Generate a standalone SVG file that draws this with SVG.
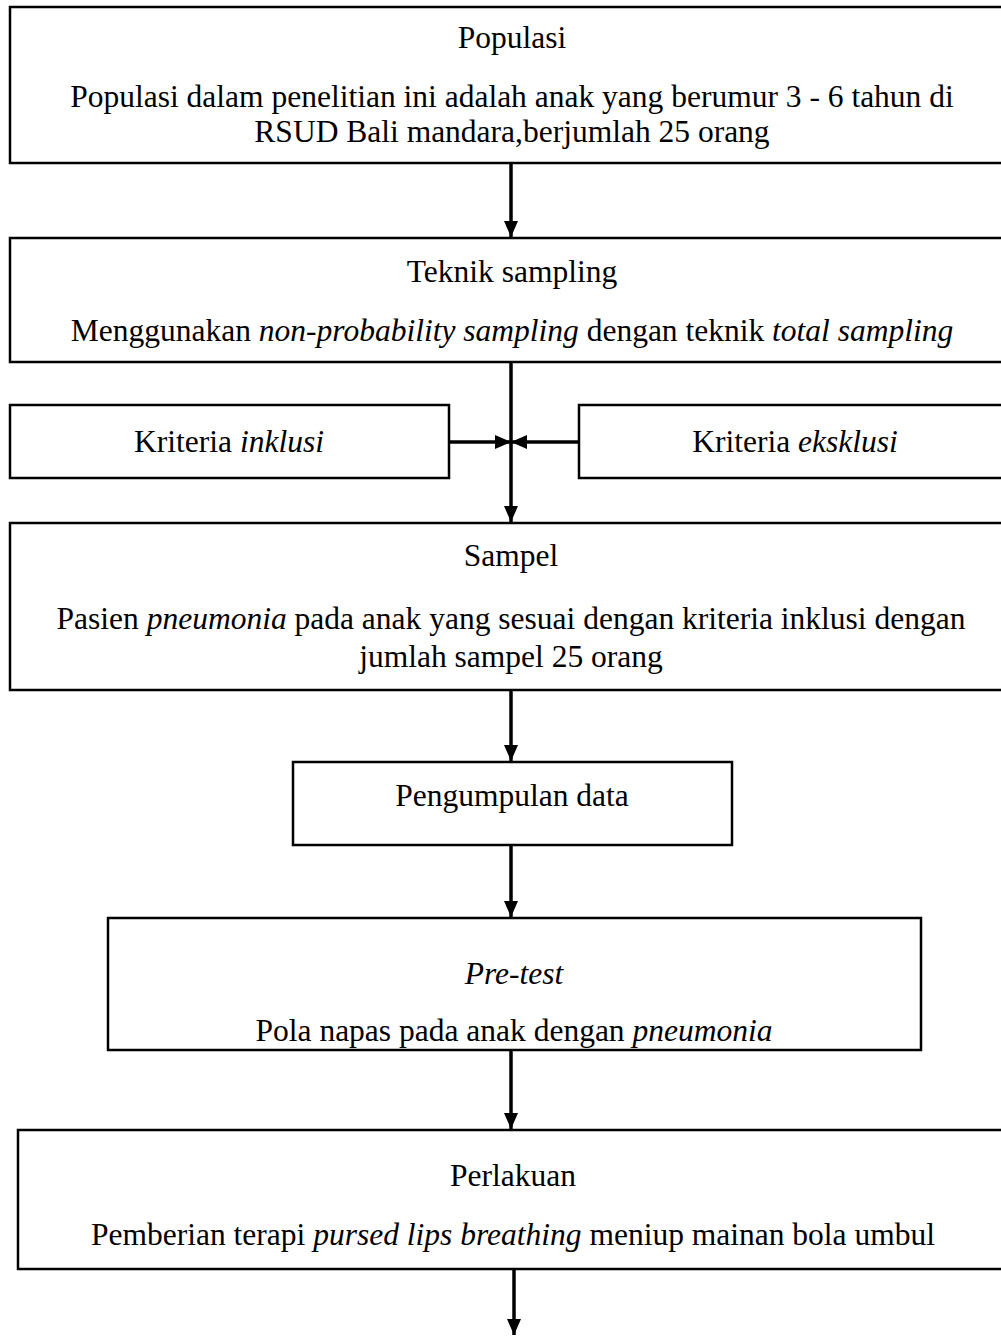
<svg xmlns="http://www.w3.org/2000/svg" width="1001" height="1336" viewBox="0 0 1001 1336">
<style>
.box{fill:#fff;stroke:#000;stroke-width:2.5}
.t{font-family:"Liberation Serif","Times New Roman",serif;font-size:31.5px;fill:#000;text-anchor:middle}
.i{font-style:italic}
.c{stroke:#000;stroke-width:3.5;fill:none}
</style>
<defs>
<marker id="ah" markerUnits="userSpaceOnUse" markerWidth="16" markerHeight="16" viewBox="0 0 16 16" refX="16" refY="8" orient="auto">
<path d="M0,1 L16,8 L0,15 Z" fill="#000"/>
</marker>
</defs>
<rect width="1001" height="1336" fill="#fff"/>
<g id="populasi">
<rect class="box" x="10" y="7" width="1004" height="156"/>
<text class="t" x="512" y="48">Populasi</text>
<text class="t" x="512" y="107">Populasi dalam penelitian ini adalah anak yang berumur 3 - 6 tahun di</text>
<text class="t" x="512" y="142">RSUD Bali mandara,berjumlah 25 orang</text>
</g>
<g id="teknik-sampling">
<rect class="box" x="10" y="238" width="1004" height="124"/>
<text class="t" x="512" y="282">Teknik sampling</text>
<text class="t" x="512" y="341">Menggunakan <tspan class="i">non-probability sampling</tspan> dengan teknik <tspan class="i">total sampling</tspan></text>
</g>
<g id="kriteria-inklusi">
<rect class="box" x="10" y="405" width="439" height="73"/>
<text class="t" x="229" y="452">Kriteria <tspan class="i">inklusi</tspan></text>
</g>
<g id="kriteria-eksklusi">
<rect class="box" x="579" y="405" width="435" height="73"/>
<text class="t" x="795" y="452">Kriteria <tspan class="i">eksklusi</tspan></text>
</g>
<g id="sampel">
<rect class="box" x="10" y="523" width="1004" height="167"/>
<text class="t" x="511" y="566">Sampel</text>
<text class="t" x="511" y="629">Pasien <tspan class="i">pneumonia</tspan> pada anak yang sesuai dengan kriteria inklusi dengan</text>
<text class="t" x="511" y="667">jumlah sampel 25 orang</text>
</g>
<g id="pengumpulan-data">
<rect class="box" x="293" y="762" width="439" height="83"/>
<text class="t" x="512" y="806">Pengumpulan data</text>
</g>
<g id="pre-test">
<rect class="box" x="108" y="918" width="813" height="132"/>
<text class="t i" x="514" y="984">Pre-test</text>
<text class="t" x="514" y="1041">Pola napas pada anak dengan <tspan class="i">pneumonia</tspan></text>
</g>
<g id="perlakuan">
<rect class="box" x="18" y="1130" width="1000" height="139"/>
<text class="t" x="513" y="1186">Perlakuan</text>
<text class="t" x="513" y="1245">Pemberian terapi <tspan class="i">pursed lips breathing</tspan> meniup mainan bola umbul</text>
</g>
<g id="connectors">
<line class="c" x1="511" y1="163" x2="511" y2="237" marker-end="url(#ah)"/>
<line class="c" x1="511" y1="362" x2="511" y2="522" marker-end="url(#ah)"/>
<line class="c" x1="449" y1="442" x2="511" y2="442" marker-end="url(#ah)"/>
<line class="c" x1="579" y1="442" x2="511" y2="442" marker-end="url(#ah)"/>
<line class="c" x1="511" y1="690" x2="511" y2="761" marker-end="url(#ah)"/>
<line class="c" x1="511" y1="845" x2="511" y2="917" marker-end="url(#ah)"/>
<line class="c" x1="511" y1="1050" x2="511" y2="1129" marker-end="url(#ah)"/>
<line class="c" x1="514" y1="1269" x2="514" y2="1335" marker-end="url(#ah)"/>
</g>
</svg>
